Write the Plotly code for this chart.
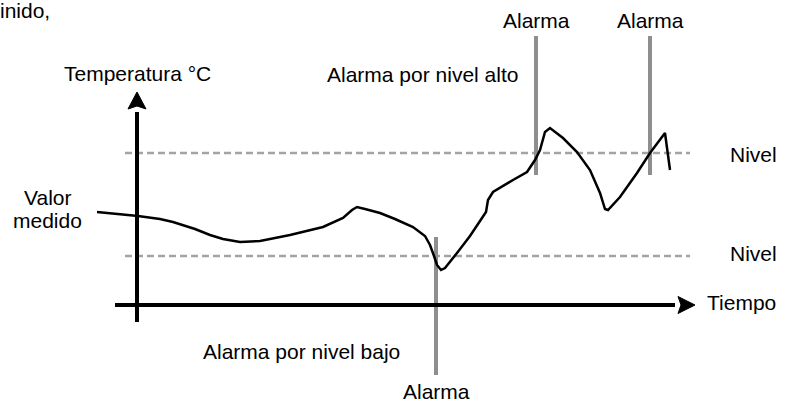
import plotly.graph_objects as go

# Measured value curve (time units, temperature units)
time_vals = [-8.0, -4.0, 0.2, 4.6, 7.2, 11.6, 14.6, 17.2, 20.6, 24.6, 30.6, 37.2, 41.2, 43.0, 44.0,
             45.6, 48.6, 51.6, 55.2, 57.6, 58.6, 59.4, 60.0, 60.8, 61.6, 64.0, 66.6, 68.6, 69.8,
             70.2, 71.2, 75.2, 78.0, 79.6, 80.6, 81.6, 82.6, 85.2, 88.0, 90.6, 92.6, 93.6, 94.2,
             96.6, 100.0, 102.6, 105.6, 106.6]
temp_vals = [18.6, 18.2, 17.8, 17.2, 16.6, 15.2, 14.0, 13.2, 12.6, 12.8, 14.0, 15.6, 17.4, 19.0, 19.6,
             19.2, 18.4, 17.2, 15.6, 13.8, 12.0, 9.8, 8.0, 7.0, 7.4, 10.4, 13.8, 16.8, 18.6,
             21.0, 22.6, 25.0, 26.6, 29.0, 31.0, 34.6, 35.4, 33.4, 30.6, 27.0, 22.4, 19.2, 19.0,
             21.6, 26.4, 30.4, 34.4, 27.0]

level_high = 30.4
level_low = 9.8
level_span = [-2.4, 110.6]

alarm_low_time = 59.8
alarm_high_times = [79.8, 102.6]
alarm_low_span = [-14.0, 13.6]
alarm_high_span = [26.0, 53.8]

axis_time_span = [-4.4, 111.6]
axis_temp_span = [-3.4, 42.6]

FONT = "Liberation Sans, Arial, sans-serif"
GRAY_ALARM = "#8e8e8e"
GRAY_LEVEL = "#a3a3a3"

fig = go.Figure()

# threshold levels
for lv in [level_high, level_low]:
    fig.add_trace(go.Scatter(x=level_span, y=[lv, lv], mode="lines",
                             line=dict(color=GRAY_LEVEL, width=2.5, dash="7px,4px"),
                             hoverinfo="skip", showlegend=False))

# alarm markers
fig.add_trace(go.Scatter(x=[alarm_low_time, alarm_low_time], y=alarm_low_span, mode="lines",
                         line=dict(color=GRAY_ALARM, width=4), hoverinfo="skip", showlegend=False))
for t in alarm_high_times:
    fig.add_trace(go.Scatter(x=[t, t], y=alarm_high_span, mode="lines",
                             line=dict(color=GRAY_ALARM, width=4), hoverinfo="skip", showlegend=False))

# axes (drawn as lines + arrowheads)
fig.add_trace(go.Scatter(x=[axis_time_span[0], axis_time_span[1] - 4.0], y=[0, 0], mode="lines",
                         line=dict(color="black", width=4), hoverinfo="skip", showlegend=False))
fig.add_trace(go.Scatter(x=[0, 0], y=[axis_temp_span[0], axis_temp_span[1] - 4.0], mode="lines",
                         line=dict(color="black", width=4), hoverinfo="skip", showlegend=False))

tx = axis_time_span[1]
fig.add_shape(type="path", xref="x", yref="y",
              path=f"M {tx} 0 L {tx-3.4} 1.7 L {tx-2.8} 0 L {tx-3.4} -1.7 Z",
              fillcolor="black", line=dict(color="black", width=1))
ty = axis_temp_span[1]
fig.add_shape(type="path", xref="x", yref="y",
              path=f"M 0 {ty} L -1.8 {ty-3.4} L 0 {ty-2.8} L 1.8 {ty-3.4} Z",
              fillcolor="black", line=dict(color="black", width=1))

# measured value
fig.add_trace(go.Scatter(x=time_vals, y=temp_vals, mode="lines",
                         line=dict(color="black", width=2.5), hoverinfo="skip", showlegend=False))

def label(text, x, y, xanchor="center", yanchor="middle"):
    fig.add_annotation(x=x, y=y, xref="x", yref="y", text=text, showarrow=False,
                       xanchor=xanchor, yanchor=yanchor,
                       font=dict(family=FONT, size=21, color="black"))

# fragment of a caption cut at the top-left corner
fig.add_annotation(x=0, y=1, xref="paper", yref="paper", text="inido,", showarrow=False,
                   xanchor="left", yanchor="top", xshift=-2, yshift=3,
                   font=dict(family=FONT, size=21, color="black"))
label("Temperatura °C", 0.1, 46.4)
label("Alarma por nivel alto", 76.6, 46.2, "right")
label("Alarma", alarm_high_times[0], 57.0)
label("Alarma", alarm_high_times[1], 57.0)
label("Nivel", 118.2, 30.2, "left")
label("Nivel", 118.2, 10.4, "left")
label("Tiempo", 113.6, 0.6, "left")
label("Valor", -17.9, 21.6)
label("medido", -17.9, 17.0)
label("Alarma por nivel bajo", 53.0, -9.2, "right")
label("Alarma", alarm_low_time, -20.0, "center", "bottom")

fig.update_layout(
    width=787, height=405,
    margin=dict(l=0, r=0, t=0, b=0),
    paper_bgcolor="white", plot_bgcolor="white",
    xaxis=dict(range=[-27.4, 130.0], visible=False, fixedrange=True),
    yaxis=dict(range=[-20.0, 61.0], visible=False, fixedrange=True),
    showlegend=False,
)

fig.write_html("out.html", config={"displayModeBar": False},
               post_script="document.body.style.margin='0px';document.body.style.padding='0px';")
